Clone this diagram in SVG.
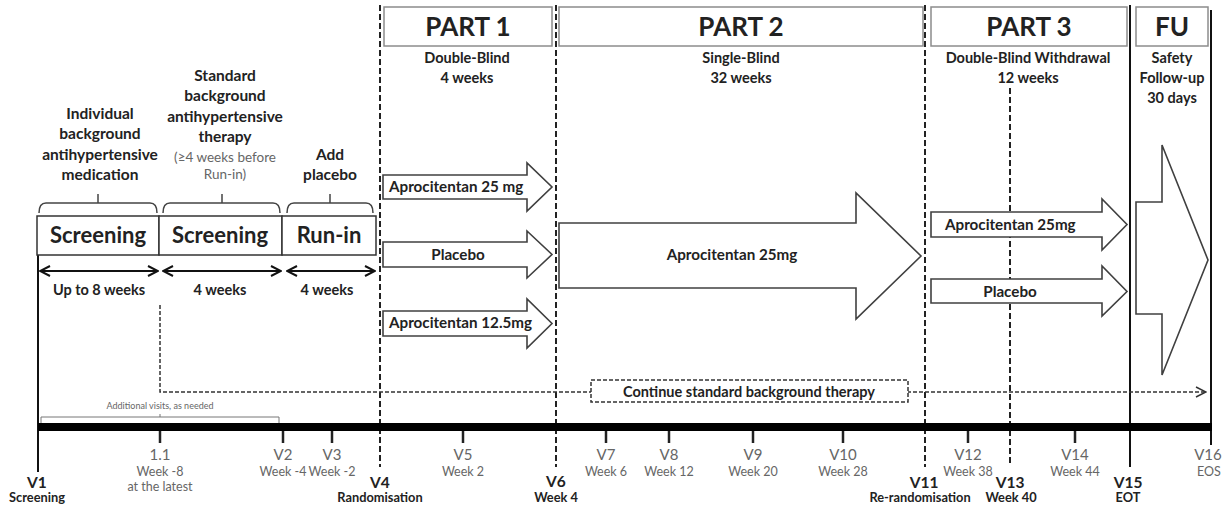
<svg xmlns="http://www.w3.org/2000/svg" width="1225" height="509" viewBox="0 0 1225 509">
<style>
text{font-family:Lato,"Liberation Sans",sans-serif;}
.b{font-weight:700;fill:#222;}
.g{font-weight:400;fill:#666;}
.hdr{fill:#fff;stroke:#8c8c8c;stroke-width:1.5;}
.box{fill:#fff;stroke:#333;stroke-width:1.5;}
.arr{fill:#fff;stroke:#404040;stroke-width:1.6;stroke-linejoin:miter;}
.dash{stroke:#222;stroke-width:2;stroke-dasharray:6 3;fill:none;}
.thin{stroke:#333;stroke-width:1.5;stroke-dasharray:4 2;fill:none;}
.cbox{stroke:#333;stroke-width:1.5;stroke-dasharray:4 2;fill:#fff;}
.solid{stroke:#111;stroke-width:2;fill:none;}
.brace{stroke:#444;stroke-width:1.5;fill:none;}
.tick{stroke:#222;stroke-width:2.5;}
.m{text-anchor:middle;}
.vl{font-size:15.5px;}
.vs{font-size:12.8px;}
</style>
<defs>
<marker id="chev" viewBox="0 0 12 12" refX="11" refY="6" markerWidth="12" markerHeight="12" markerUnits="userSpaceOnUse" orient="auto-start-reverse">
<path d="M1,1 L11,6 L1,11" fill="none" stroke="#111" stroke-width="2"/>
</marker>
<marker id="chev2" viewBox="0 0 12 12" refX="11" refY="6" markerWidth="12" markerHeight="12" markerUnits="userSpaceOnUse" orient="auto">
<path d="M1,1 L11,6 L1,11" fill="none" stroke="#333" stroke-width="1.5"/>
</marker>
</defs>

<g id="connectors">
<line class="dash" x1="380" y1="5" x2="380" y2="467"/>
<line class="dash" x1="556" y1="5" x2="556" y2="467"/>
<line class="dash" x1="925" y1="5" x2="925" y2="467"/>
<line class="dash" x1="1010" y1="88" x2="1010" y2="466"/>
<line class="solid" x1="1130" y1="5" x2="1130" y2="467"/>
<line class="solid" x1="1211" y1="10" x2="1211" y2="445"/>
<line class="solid" x1="38" y1="255" x2="38" y2="472"/>
<polyline class="thin" points="160,305 160,392 1206,392" marker-end="url(#chev2)"/>
<line x1="40" y1="271" x2="158" y2="271" stroke="#111" stroke-width="2.2" marker-start="url(#chev)" marker-end="url(#chev)"/>
<line x1="163" y1="271" x2="281" y2="271" stroke="#111" stroke-width="2.2" marker-start="url(#chev)" marker-end="url(#chev)"/>
<line x1="287" y1="271" x2="375" y2="271" stroke="#111" stroke-width="2.2" marker-start="url(#chev)" marker-end="url(#chev)"/>
<path class="brace" d="M39,213 Q39,203 46,203 H150 Q157,203 157,213 M98,203 V194"/>
<path class="brace" d="M163,213 Q163,203 170,203 H273 Q280,203 280,213 M222,203 V194"/>
<path class="brace" d="M287,213 Q287,203 294,203 H366 Q373,203 373,213 M330,203 V194"/>
<path d="M41,423 V417 H279 V423 M160,417 V414" stroke="#777" stroke-width="1" fill="none"/>
<rect x="38" y="423" width="1174" height="8" fill="#000"/>
<g class="tick">
<line x1="160" y1="431" x2="160" y2="443"/>
<line x1="283" y1="431" x2="283" y2="443"/>
<line x1="332" y1="431" x2="332" y2="443"/>
<line x1="463" y1="431" x2="463" y2="443"/>
<line x1="606" y1="431" x2="606" y2="443"/>
<line x1="669" y1="431" x2="669" y2="443"/>
<line x1="753" y1="431" x2="753" y2="443"/>
<line x1="843" y1="431" x2="843" y2="443"/>
<line x1="968" y1="431" x2="968" y2="443"/>
<line x1="1075" y1="431" x2="1075" y2="443"/>
</g>
</g>

<g id="part1-header"><rect class="hdr" x="384" y="7" width="168" height="39"/><text class="b m" x="468" y="36" font-size="26">PART 1</text>
<text class="b m" x="467" y="63" font-size="14.5">Double-Blind</text><text class="b m" x="467" y="83" font-size="14.5">4 weeks</text></g>
<g id="part2-header"><rect class="hdr" x="559" y="7" width="364" height="39"/><text class="b m" x="741" y="36" font-size="26">PART 2</text>
<text class="b m" x="741" y="63" font-size="14.5">Single-Blind</text><text class="b m" x="741" y="83" font-size="14.5">32 weeks</text></g>
<g id="part3-header"><rect class="hdr" x="931" y="7" width="196" height="39"/><text class="b m" x="1029" y="36" font-size="26">PART 3</text>
<text class="b m" x="1028" y="63" font-size="14.5">Double-Blind Withdrawal</text><text class="b m" x="1028" y="83" font-size="14.5">12 weeks</text></g>
<g id="fu-header"><rect class="hdr" x="1136" y="7" width="72" height="39"/><text class="b m" x="1172" y="36" font-size="26">FU</text>
<text class="b m" x="1172" y="63" font-size="14.5">Safety</text><text class="b m" x="1172" y="83" font-size="14.5">Follow-up</text><text class="b m" x="1172" y="103" font-size="14.5">30 days</text></g>

<g id="screening1"><text class="b m" x="100" y="119" font-size="15.5">Individual</text><text class="b m" x="100" y="139" font-size="15.5">background</text><text class="b m" x="100" y="160" font-size="15.5">antihypertensive</text><text class="b m" x="100" y="180" font-size="15.5">medication</text>
<rect class="box" x="37" y="216" width="122" height="39"/><text class="b m" x="98" y="243" font-size="22">Screening</text>
<text class="b m" x="99" y="295" font-size="14.5">Up to 8 weeks</text></g>
<g id="screening2"><text class="b m" x="225" y="81" font-size="15.5">Standard</text><text class="b m" x="225" y="101" font-size="15.5">background</text><text class="b m" x="225" y="122" font-size="15.5">antihypertensive</text><text class="b m" x="225" y="142" font-size="15.5">therapy</text>
<text class="g m" x="225" y="162" font-size="13.5">(≥4 weeks before</text><text class="g m" x="225" y="179" font-size="13.5">Run-in)</text>
<rect class="box" x="159" y="216" width="123" height="39"/><text class="b m" x="220" y="243" font-size="22">Screening</text>
<text class="b m" x="220" y="295" font-size="14.5">4 weeks</text></g>
<g id="runin"><text class="b m" x="330" y="160" font-size="15.5">Add</text><text class="b m" x="330" y="180" font-size="15.5">placebo</text>
<rect class="box" x="282" y="216" width="94" height="39"/><text class="b m" x="329" y="243" font-size="22">Run-in</text>
<text class="b m" x="327" y="295" font-size="14.5">4 weeks</text></g>

<g id="p1-apro25"><polygon class="arr" points="383,175 527,175 527,163 552,187 527,211 527,199 383,199"/><text class="b" x="389" y="192" font-size="15.2">Aprocitentan 25 mg</text></g>
<g id="p1-placebo"><polygon class="arr" points="383,242 527,242 527,231 552,254.5 527,278 527,267 383,267"/><text class="b m" x="458" y="260" font-size="15.2">Placebo</text></g>
<g id="p1-apro125"><polygon class="arr" points="383,311 527,311 527,299 552,323.5 527,348 527,336 383,336"/><text class="b" x="389" y="328" font-size="15.2">Aprocitentan 12.5mg</text></g>
<g id="p2-apro25"><polygon class="arr" points="559,223 856,223 856,193 921,256 856,319 856,288 559,288"/><text class="b m" x="732" y="260" font-size="15.2">Aprocitentan 25mg</text></g>
<g id="p3-apro25"><polygon class="arr" points="931,212 1102,212 1102,199 1127,224.5 1102,250 1102,237 931,237"/><text class="b" x="945" y="230" font-size="15.2">Aprocitentan 25mg</text></g>
<g id="p3-placebo"><polygon class="arr" points="931,279 1102,279 1102,266 1127,291.5 1102,316 1102,303 931,303"/><text class="b m" x="1010" y="297" font-size="15.2">Placebo</text></g>
<g id="fu-arrow"><polygon class="arr" points="1136,202 1162,202 1162,145 1208,260 1162,375 1162,314 1136,314"/></g>

<g id="continue"><rect class="cbox" x="591" y="380" width="317" height="22"/><text class="b m" x="749" y="397" font-size="14.5">Continue standard background therapy</text></g>
<text class="g m" x="160" y="409" font-size="9" fill="#555">Additional visits, as needed</text>

<g id="visits">
<text class="b m vl" x="37" y="488">V1</text><text class="b m vs" x="37" y="502">Screening</text>
<text class="g m" x="160" y="460" font-size="15">1.1</text><text class="g m" x="160" y="476" font-size="12.5">Week -8</text><text class="g m" x="160" y="491" font-size="12.5">at the latest</text>
<text class="g m" x="283" y="460" font-size="15">V2</text><text class="g m" x="283" y="476" font-size="12.5">Week -4</text>
<text class="g m" x="332" y="460" font-size="15">V3</text><text class="g m" x="332" y="476" font-size="12.5">Week -2</text>
<text class="b m vl" x="380" y="488">V4</text><text class="b m vs" x="380" y="502">Randomisation</text>
<text class="g m" x="463" y="460" font-size="15">V5</text><text class="g m" x="463" y="476" font-size="12.5">Week 2</text>
<text class="b m vl" x="556" y="487">V6</text><text class="b m vs" x="556" y="502">Week 4</text>
<text class="g m" x="606" y="460" font-size="15">V7</text><text class="g m" x="606" y="476" font-size="12.5">Week 6</text>
<text class="g m" x="669" y="460" font-size="15">V8</text><text class="g m" x="669" y="476" font-size="12.5">Week 12</text>
<text class="g m" x="753" y="460" font-size="15">V9</text><text class="g m" x="753" y="476" font-size="12.5">Week 20</text>
<text class="g m" x="843" y="460" font-size="15">V10</text><text class="g m" x="843" y="476" font-size="12.5">Week 28</text>
<text class="b m vl" x="924" y="488">V11</text><text class="b m vs" x="920" y="502">Re-randomisation</text>
<text class="g m" x="968" y="460" font-size="15">V12</text><text class="g m" x="968" y="476" font-size="12.5">Week 38</text>
<text class="b m vl" x="1010" y="488">V13</text><text class="b m vs" x="1011" y="502">Week 40</text>
<text class="g m" x="1075" y="460" font-size="15">V14</text><text class="g m" x="1075" y="476" font-size="12.5">Week 44</text>
<text class="b m vl" x="1128" y="488">V15</text><text class="b m vs" x="1128" y="502">EOT</text>
<text class="g m" x="1208" y="460" font-size="15">V16</text><text class="g m" x="1209" y="476" font-size="12.5">EOS</text>
</g>
</svg>
